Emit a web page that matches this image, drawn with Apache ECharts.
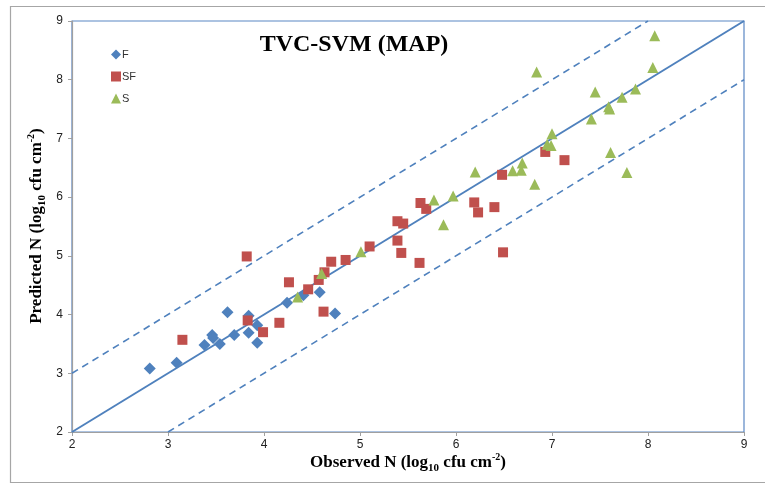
<!DOCTYPE html>
<html>
<head>
<meta charset="utf-8">
<script src="https://cdn.jsdelivr.net/npm/echarts@6/dist/echarts.min.js"></script>
<style>html,body{margin:0;padding:0;background:#fff;}#c{width:765px;height:484px;}</style>
</head>
<body>
<div id="c"></div>
<script>
// Data: [observed, predicted]
const seriesF = [[2.81,3.08],[3.09,3.18],[3.38,3.48],[3.46,3.65],[3.47,3.60],[3.54,3.50],[3.62,4.04],[3.69,3.65],[3.84,3.98],[3.84,3.69],[3.93,3.82],[3.93,3.52],[4.24,4.20],[4.41,4.33],[4.58,4.38],[4.74,4.02]];
const seriesSF = [[3.15,3.57],[3.82,4.99],[3.83,3.90],[3.99,3.70],[4.16,3.86],[4.26,4.55],[4.46,4.43],[4.57,4.59],[4.62,4.05],[4.63,4.72],[4.70,4.90],[4.85,4.93],[5.10,5.16],[5.39,5.59],[5.45,5.55],[5.39,5.26],[5.43,5.05],[5.62,4.88],[5.63,5.90],[5.69,5.80],[6.19,5.91],[6.23,5.74],[6.40,5.83],[6.48,6.38],[6.49,5.06],[6.93,6.77],[7.13,6.63]];
const seriesS = [[4.35,4.30],[4.60,4.70],[5.01,5.07],[5.77,5.95],[5.87,5.53],[5.97,6.02],[6.20,6.43],[6.59,6.45],[6.68,6.46],[6.69,6.58],[6.82,6.22],[6.84,8.13],[6.95,6.90],[6.99,6.88],[7.00,7.08],[7.41,7.33],[7.45,7.79],[7.59,7.54],[7.60,7.50],[7.61,6.76],[7.73,7.70],[7.78,6.42],[7.87,7.84],[8.05,8.21],[8.07,8.75]];
const lineIdentity = [[2,2],[9,9]];
const lineUpper = [[2,3],[8,9]];
const lineLower = [[3,2],[9,8]];
const axisMin = 2, axisMax = 9, axisStep = 1;

const blue = '#4f81bd', red = '#c0504d', green = '#9bbb59';
const chart = echarts.init(document.getElementById('c'));
const serif = '"Liberation Serif", "DejaVu Serif", serif';
const richName = {
  b: { fontFamily: serif, fontWeight: 'bold', fontSize: 17, color: '#000', lineHeight: 22, verticalAlign: 'middle' },
  s: { fontFamily: serif, fontWeight: 'bold', fontSize: 11, color: '#000', lineHeight: 22, verticalAlign: 'bottom', padding: [9,0,0,0] },
  p: { fontFamily: serif, fontWeight: 'bold', fontSize: 10, color: '#000', lineHeight: 22, verticalAlign: 'top', padding: [0,0,9,0] }
};
chart.setOption({
  animation: false,
  backgroundColor: '#fff',
  grid: { left: 72, right: 21, top: 21, bottom: 52, show: true, borderColor: '#5b87c4', borderWidth: 1.2, backgroundColor: 'transparent' },
  legend: {
    orient: 'vertical', left: 106, top: 44, itemGap: 11, itemWidth: 10, itemHeight: 10,
    data: ['F','SF','S'],
    textStyle: { fontFamily: '"Liberation Sans", sans-serif', fontSize: 11, color: '#333', padding: [0,0,0,-4] }
  },
  xAxis: {
    type: 'value', min: axisMin, max: axisMax, interval: axisStep,
    axisLine: { show: true, lineStyle: { color: '#a0a0a0', width: 1.2 } },
    axisTick: { show: true, length: 4, lineStyle: { color: '#a0a0a0' } },
    splitLine: { show: false },
    axisLabel: { color: '#222', fontSize: 12, fontFamily: '"Liberation Sans", sans-serif', margin: 7 }
  },
  yAxis: {
    type: 'value', min: axisMin, max: axisMax, interval: axisStep,
    axisLine: { show: true, lineStyle: { color: '#a0a0a0', width: 1.2 } },
    axisTick: { show: true, length: 4, lineStyle: { color: '#a0a0a0' } },
    splitLine: { show: false },
    axisLabel: { color: '#222', fontSize: 12, fontFamily: '"Liberation Sans", sans-serif', margin: 9 }
  },
  graphic: [
    { type: 'rect', z: -10, shape: { x: 10.5, y: 6.5, width: 800, height: 476 }, style: { fill: 'none', stroke: '#a6a6a6', lineWidth: 1.2 } },
    { type: 'text', x: 354, y: 45, style: { text: 'TVC-SVM (MAP)', font: 'bold 24px ' + serif, fill: '#000', align: 'center', verticalAlign: 'middle' } },
    { type: 'text', x: 408, y: 463, style: {
        text: '{b|Observed N (log}{s|10}{b| cfu cm}{p|-2}{b|)}',
        align: 'center', verticalAlign: 'middle', rich: richName } },
    { type: 'text', x: 37, y: 226, rotation: Math.PI / 2, style: {
        text: '{b|Predicted N (log}{s|10}{b| cfu cm}{p|-2}{b|)}',
        align: 'center', verticalAlign: 'middle', rich: richName } }
  ],
  series: [
    { name: 'identity', type: 'line', data: lineIdentity, symbol: 'none', lineStyle: { color: blue, width: 2 }, z: 1, silent: true },
    { name: 'upper', type: 'line', data: lineUpper, symbol: 'none', lineStyle: { color: blue, width: 1.6, type: [7,5] }, z: 1, silent: true },
    { name: 'lower', type: 'line', data: lineLower, symbol: 'none', lineStyle: { color: blue, width: 1.6, type: [7,5] }, z: 1, silent: true },
    { name: 'F', type: 'scatter', data: seriesF, symbol: 'diamond', symbolSize: 12, itemStyle: { color: blue, opacity: 1 }, z: 3 },
    { name: 'SF', type: 'scatter', data: seriesSF, symbol: 'rect', symbolSize: 10, itemStyle: { color: red, opacity: 1 }, z: 3 },
    { name: 'S', type: 'scatter', data: seriesS, symbol: 'triangle', symbolSize: 11, itemStyle: { color: green, opacity: 1 }, z: 3 }
  ]
});
</script>
</body>
</html>
